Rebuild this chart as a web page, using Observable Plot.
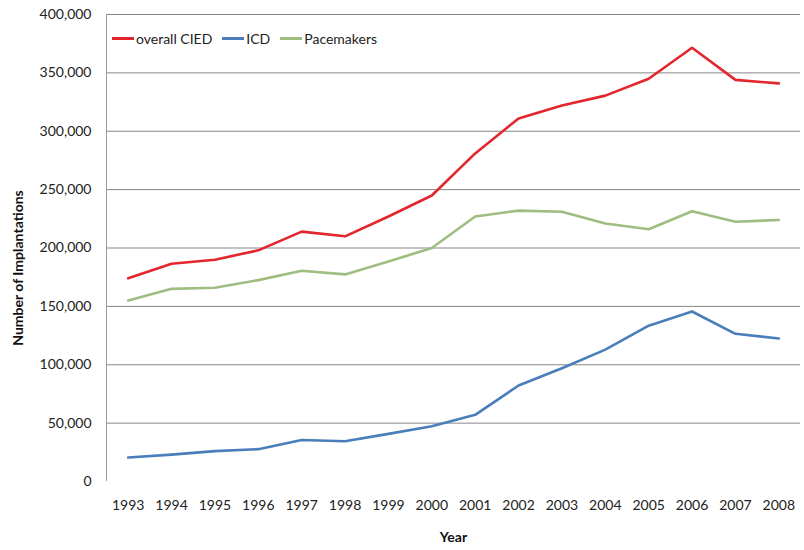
<!DOCTYPE html>
<html>
<head>
<meta charset="utf-8">
<script src="https://cdn.jsdelivr.net/npm/d3@7"></script>
<script src="https://cdn.jsdelivr.net/npm/@observablehq/plot@0.6"></script>
<style>
  body { margin: 0; background: #fff; font-family: Lato, "Open Sans", sans-serif; }
  #wrap { position: relative; width: 804px; height: 550px; }
  #legend { position: absolute; left: 112px; top: 30px; font-size: 14px; color: #222; display: flex; align-items: center; white-space: nowrap; }
  #legend .item { display: flex; align-items: center; margin-right: 10px; }
  #legend .sw { display: inline-block; width: 22px; height: 2.5px; margin-right: 2px; }
</style>
</head>
<body>
<div id="wrap"><div id="legend"></div></div>
<script>
const years = [1993,1994,1995,1996,1997,1998,1999,2000,2001,2002,2003,2004,2005,2006,2007,2008];
const overallCIED = [174000,186500,190000,198000,214000,210000,227000,245000,281000,311000,322000,330500,345000,371500,344000,341000];
const icd = [20500,23000,26000,27700,35500,34500,40800,47400,57100,82200,97000,113000,133500,145600,126500,122500];
const pacemakers = [155000,165000,166000,172500,180500,177400,188500,200000,227000,232000,231000,221000,216000,231500,222500,224000];
const seriesNames = ["overall CIED", "ICD", "Pacemakers"];
const seriesColors = ["#e3262d", "#4a7ebb", "#9fbd80"];
const yTicks = [0,50000,100000,150000,200000,250000,300000,350000,400000];

const seriesValues = [overallCIED, icd, pacemakers];
const rows = [];
seriesNames.forEach((s, k) => years.forEach((yr, i) => rows.push({series: s, year: yr, value: seriesValues[k][i]})));
const xDomain = [years[0] - 0.5, years[years.length - 1] + 0.5];

const chart = Plot.plot({
  width: 804,
  height: 550,
  marginLeft: 106,
  marginRight: 4,
  marginTop: 14,
  marginBottom: 69,
  style: {fontFamily: "Lato, 'Open Sans', sans-serif", fontSize: "14px", color: "#222", background: "#fff"},
  x: {domain: xDomain},
  y: {domain: [0, 400000]},
  color: {domain: seriesNames, range: seriesColors},
  marks: [
    Plot.gridY(yTicks.slice(1), {stroke: "#878787", strokeOpacity: 1, strokeWidth: 1}),
    Plot.ruleX([xDomain[0]], {y1: 0, y2: 400000, stroke: "#9a9a9a", strokeWidth: 1}),
    Plot.axisY(yTicks, {tickSize: 0, tickPadding: 15, tickFormat: d3.format(","), label: null, fontSize: 14}),
    Plot.axisX(years, {tickSize: 0, tickPadding: 19, tickFormat: d => String(d), label: null, fontSize: 14}),
    Plot.line(rows, {x: "year", y: "value", z: "series", stroke: "series", strokeWidth: 2.6}),
    Plot.text(["Year"], {frameAnchor: "bottom", lineAnchor: "middle", dy: 56, fontWeight: "bold", fontSize: 14, fill: "#111"}),
    Plot.text(["Number of Implantations"], {frameAnchor: "left", textAnchor: "middle", lineAnchor: "middle", dx: -88, dy: 20, rotate: -90, fontWeight: "bold", fontSize: 14, fill: "#111"})
  ]
});
document.getElementById("wrap").prepend(chart);

const legend = document.getElementById("legend");
seriesNames.forEach((s, k) => {
  const item = document.createElement("span");
  item.className = "item";
  const sw = document.createElement("span");
  sw.className = "sw";
  sw.style.background = seriesColors[k];
  item.appendChild(sw);
  item.appendChild(document.createTextNode(s));
  legend.appendChild(item);
});
</script>
</body>
</html>
